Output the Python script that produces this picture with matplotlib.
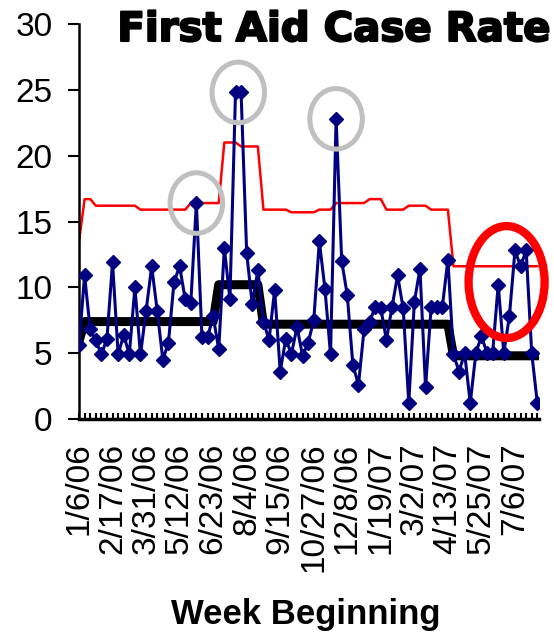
import numpy as np
import matplotlib.pyplot as plt
import matplotlib.patheffects as pe
from matplotlib.patches import Ellipse

# weekly first aid case rate, starting week of 1/6/06
rate = [5.6, 10.9, 6.8, 6.0, 4.9, 6.1, 11.9, 4.9, 6.4, 4.9,
        10.0, 4.9, 8.2, 11.6, 8.2, 4.5, 5.8, 10.4, 11.6, 9.1,
        8.8, 16.4, 6.2, 6.2, 7.8, 5.3, 13.0, 9.1, 24.8, 24.8,
        12.6, 8.7, 11.3, 7.4, 6.0, 9.8, 3.6, 6.1, 4.9, 7.0,
        4.8, 5.8, 7.5, 13.5, 9.9, 4.9, 22.8, 12.0, 9.4, 4.1,
        2.6, 6.8, 7.4, 8.5, 8.4, 6.0, 8.5, 10.9, 8.4, 1.2,
        8.9, 11.4, 2.4, 8.5, 8.5, 8.5, 12.1, 4.9, 3.6, 5.0,
        1.2, 5.0, 6.3, 5.0, 5.0, 10.2, 5.0, 7.8, 12.8, 11.6,
        12.8, 5.0, 1.2]

# center line (mean of each phase)
center = [5.9, 7.4, 7.4, 7.4, 7.4, 7.4, 7.4, 7.4, 7.4, 7.4,
          7.4, 7.4, 7.4, 7.4, 7.4, 7.4, 7.4, 7.4, 7.4, 7.4,
          7.4, 7.4, 7.4, 7.4, 7.4, 10.2, 10.2, 10.2, 10.2, 10.2,
          10.2, 10.2, 10.2, 7.2, 7.2, 7.2, 7.2, 7.2, 7.2, 7.2,
          7.2, 7.2, 7.2, 7.2, 7.2, 7.2, 7.2, 7.2, 7.2, 7.2,
          7.2, 7.2, 7.2, 7.2, 7.2, 7.2, 7.2, 7.2, 7.2, 7.2,
          7.2, 7.2, 7.2, 7.2, 7.2, 7.2, 7.2, 4.8, 4.8, 4.8,
          4.8, 4.8, 4.8, 4.8, 4.8, 4.8, 4.8, 4.8, 4.8, 4.8,
          4.8, 4.8, 4.8]

# upper control limit
ucl = [13.5, 16.7, 16.7, 16.2, 16.2, 16.2, 16.2, 16.2, 16.2, 16.2,
       16.2, 15.9, 15.9, 15.9, 15.9, 15.9, 15.9, 15.9, 15.9, 15.9,
       16.4, 16.4, 16.4, 16.4, 16.4, 16.4, 21.0, 21.0, 21.0, 20.7,
       20.7, 20.7, 20.7, 15.9, 15.9, 15.9, 15.9, 15.9, 15.7, 15.7,
       15.7, 15.7, 15.7, 15.9, 15.9, 15.9, 16.4, 16.4, 16.4, 16.4,
       16.4, 16.4, 16.7, 16.7, 16.7, 15.9, 15.9, 15.9, 15.9, 16.2,
       16.2, 16.2, 16.2, 15.9, 15.9, 15.9, 15.9, 11.6, 11.6, 11.6,
       11.6, 11.6, 11.6, 11.6, 11.6, 11.6, 11.6, 11.6, 11.6, 11.6,
       11.6, 11.6, 11.6]

tick_labels = ['1/6/06', '2/17/06', '3/31/06', '5/12/06', '6/23/06',
               '8/4/06', '9/15/06', '10/27/06', '12/8/06', '1/19/07',
               '3/2/07', '4/13/07', '5/25/07', '7/6/07']
label_step = 6  # one label every 6 weeks

# highlighted points: gray = out of control, red = recent cluster
gray_idx = [21, 28.5, 46]
gray_val = [16.4, 24.8, 22.8]
red_idx = 76.5
red_val = 10.4

plt.rcParams['font.family'] = ['Liberation Sans', 'DejaVu Sans']

weeks = np.arange(len(rate))

fig = plt.figure(figsize=(5.54, 6.35), dpi=100)
ax = fig.add_axes([79 / 554, 216 / 635, 460 / 554, 395 / 635])

ax.plot(weeks, ucl, color='red', lw=1.8, zorder=2)
ax.plot(weeks, center, color='black', lw=6.5, zorder=3)
ax.plot(weeks, rate, color='#000080', lw=2.2, marker='D', ms=7,
        zorder=4)

# annotation rings
for xi, yi in zip(gray_idx, gray_val):
    ax.add_patch(Ellipse((xi, yi), 9.4, 4.6, fill=False,
                         edgecolor='#c0c0c0', lw=3.6, zorder=5,
                         clip_on=False))
ax.add_patch(Ellipse((red_idx, red_val), 13.6, 8.5, fill=False,
                     edgecolor='red', lw=6, zorder=5, clip_on=False))

ax.set_xlim(0, len(rate) - 0.7)
ax.set_ylim(0, 30)
ax.set_yticks(range(0, 31, 5))
ax.set_xticks(weeks, minor=True)
ax.set_xticks(weeks[::label_step][:len(tick_labels)])
ax.set_xticklabels(tick_labels, rotation=90, fontsize=24)
ax.tick_params(axis='y', labelsize=24, direction='out', length=8,
               width=1.5, pad=11)
ax.tick_params(axis='x', which='both', direction='in', length=4,
               width=1.5, pad=17)

for side in ['top', 'right']:
    ax.spines[side].set_visible(False)
ax.spines['left'].set_linewidth(1.8)
ax.spines['bottom'].set_linewidth(2.5)

title = fig.text(550 / 554, 1 - 41 / 635, 'First Aid Case Rate',
                 ha='right', va='baseline', fontsize=29,
                 fontweight='bold', family='DejaVu Sans')
title.set_path_effects([pe.withStroke(linewidth=1.5, foreground='black')])

fig.text(306 / 554, 1 - 624 / 635, 'Week Beginning', ha='center',
         va='baseline', fontsize=25, fontweight='bold')

fig.savefig('out.png', dpi=100)
